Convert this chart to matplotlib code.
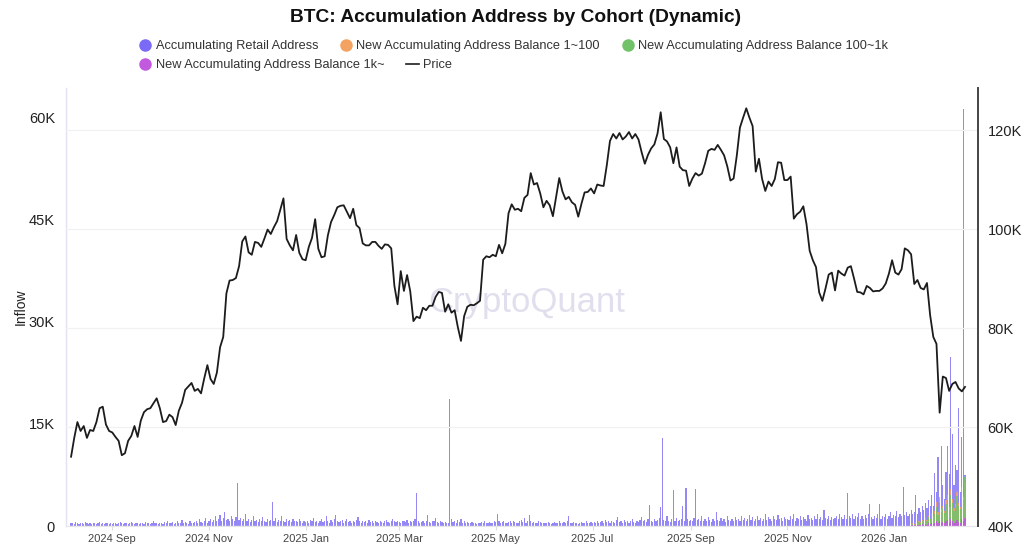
import matplotlib
matplotlib.use("Agg")
import matplotlib.pyplot as plt
from matplotlib.lines import Line2D
import numpy as np
import pandas as pd

plt.rcParams['font.family'] = ['Liberation Sans', 'DejaVu Sans']

# ---------------- data ----------------
title = "BTC: Accumulation Address by Cohort (Dynamic)"
series_names = ["Accumulating Retail Address",
                "New Accumulating Address Balance 1~100",
                "New Accumulating Address Balance 100~1k",
                "New Accumulating Address Balance 1k~",
                "Price"]

# daily inflow of accumulating retail addresses (thousands), from 2024-08-06
retail_start = "2024-08-06"
retail_k = [
    # Aug 2024
    0.4,0.5,0.3,0.6,0.4,0.3,0.5,0.4,0.3,0.6,0.5,0.3,0.4,0.3,0.5,0.4,0.3,0.4,0.6,0.3,0.4,0.3,0.5,0.4,0.3,0.4,
    # Sep
    0.3,0.4,0.5,0.3,0.4,0.6,0.4,0.3,0.5,0.4,0.3,0.4,0.6,0.4,0.3,0.5,0.4,0.3,0.4,0.5,0.3,0.6,0.4,0.5,0.3,0.4,0.7,0.5,0.4,0.3,
    # Oct
    0.4,0.5,0.3,0.6,0.4,0.8,0.5,0.4,0.6,0.3,0.5,0.7,0.4,0.5,0.9,0.4,0.6,0.5,0.3,0.7,0.5,0.4,0.6,0.8,0.5,1.0,0.6,0.4,0.7,1.2,0.5,
    # Nov
    0.8,1.1,0.6,0.9,1.4,0.7,1.0,1.6,0.8,1.2,2.0,0.9,1.1,0.7,1.5,1.0,0.8,1.3,6.3,0.9,1.2,0.7,1.0,1.8,0.8,1.1,0.6,0.9,1.4,0.7,
    # Dec
    0.9,0.6,1.0,0.7,1.3,0.8,0.6,1.1,0.7,0.9,3.6,0.8,1.2,0.6,0.9,0.7,1.5,0.8,0.6,1.0,0.7,0.9,0.6,1.1,0.7,0.8,0.6,1.0,0.7,0.5,0.8,
    # Jan 2025
    0.6,0.8,0.5,0.9,0.7,1.2,0.6,0.8,0.5,0.7,1.0,0.6,0.8,1.4,0.7,0.5,0.9,0.6,1.1,1.6,0.8,0.6,0.7,0.9,0.5,0.7,1.0,0.6,0.8,0.5,0.7,
    # Feb
    0.6,0.9,1.3,0.7,0.5,0.8,0.6,0.7,0.5,0.9,0.6,0.8,0.5,0.7,0.6,0.4,0.8,0.6,0.5,0.7,0.9,0.6,0.5,0.8,1.1,0.7,0.6,0.8,
    # Mar
    0.6,0.5,0.7,0.8,0.6,0.9,0.5,0.7,0.6,0.8,1.0,4.8,0.7,0.5,0.6,0.8,0.5,0.7,1.6,0.6,0.5,0.7,0.8,1.2,0.6,0.5,0.7,0.6,0.4,0.6,0.5,
    # Apr
    0.5,18.7,1.1,0.6,0.8,0.5,0.9,0.6,1.0,0.5,0.7,0.4,0.6,0.5,0.4,0.6,0.5,0.4,0.3,0.5,0.4,0.6,0.5,0.7,0.4,0.5,0.6,0.4,0.5,0.7,
    # May
    0.6,1.8,0.7,0.5,0.6,0.8,0.5,0.4,0.6,0.7,0.5,0.8,0.6,0.4,0.5,0.7,0.9,0.6,1.2,0.5,0.8,1.6,0.7,0.5,0.6,0.4,0.5,0.7,0.6,0.5,0.4,
    # Jun
    0.5,0.4,0.6,0.5,0.3,0.4,0.6,0.5,0.4,0.7,0.5,0.4,0.6,0.5,0.8,1.4,0.5,0.4,0.6,0.5,0.4,0.3,0.5,0.6,0.4,0.5,0.7,0.5,0.4,0.6,
    # Jul
    0.5,0.6,0.4,0.7,0.5,0.6,0.8,0.5,0.9,0.6,0.7,0.5,0.8,0.6,0.5,0.9,1.3,0.6,0.7,0.5,0.9,0.6,0.8,0.5,0.7,1.0,0.6,0.5,0.8,0.6,0.9,
    # Aug 2025
    1.3,0.7,0.9,0.6,1.0,3.1,0.8,0.6,1.1,0.7,0.9,1.2,2.8,13.0,0.9,0.7,1.4,0.8,0.6,1.0,5.3,0.8,1.2,0.7,0.9,1.1,2.9,0.8,5.6,1.0,0.7,
    # Sep
    0.9,0.8,1.2,5.4,0.9,1.1,0.7,1.5,0.8,1.0,0.7,1.3,0.9,0.6,1.1,0.8,2.0,0.9,0.7,1.2,0.8,1.0,0.6,1.4,0.9,0.7,1.1,0.8,1.3,0.9,
    # Oct
    1.0,0.8,1.4,0.9,1.2,0.7,1.1,1.6,0.9,1.3,0.8,1.0,1.5,0.9,1.2,0.7,1.1,1.8,0.9,1.3,1.0,0.8,1.4,1.1,0.9,1.6,1.0,1.2,0.8,1.3,1.0,
    # Nov
    1.1,0.9,1.4,1.0,1.7,0.8,1.2,1.0,1.5,0.9,1.3,1.1,0.8,1.6,1.0,1.2,0.9,1.4,1.1,1.8,1.0,1.3,0.9,2.4,1.2,1.0,1.5,0.9,1.3,1.1,
    # Dec
    1.2,1.5,1.0,1.8,1.3,1.1,1.6,1.0,4.9,1.4,1.2,1.7,1.0,1.5,1.3,1.9,1.1,1.4,1.0,1.6,1.2,1.8,3.2,1.3,1.0,1.5,1.2,1.7,3.3,1.1,1.4,
    # Jan 2026
    1.3,1.8,1.1,1.5,2.0,1.2,1.6,1.4,2.2,1.3,1.7,1.5,5.8,1.6,2.1,1.4,1.8,2.4,1.7,2.0,4.6,1.8,2.6,2.1,3.0,2.4,3.4,2.6,3.8,3.0,4.5,
    # Feb 2026
    3.0,7.8,5.0,10.2,4.0,11.7,6.0,4.0,8.0,11.7,7.7,24.9,13.5,6.0,9.0,8.2,17.3,5.0,13.1,61.3,7.5,
]

# new accumulating address cohorts (thousands), daily from 2026-01-18
new_start = "2026-01-18"
bal_1_100_k = [0.3,0.4,0.3,0.6,0.5,0.8,0.6,0.9,0.7,1.2,0.9,1.5,1.1,1.8,1.3,2.2,3.5,2.0,4.2,2.5,
               3.0,2.2,3.8,4.5,2.8,5.5,4.0,2.6,3.2,5.0,3.4,2.8,5.8,4.2,6.5]
bal_100_1k_k = [0.2,0.3,0.2,0.5,0.4,0.6,0.5,0.8,0.6,1.0,0.8,1.3,1.0,1.6,1.2,1.8,2.8,1.6,3.4,2.0,
                2.6,1.9,3.2,3.8,2.4,4.6,3.4,2.2,2.8,4.4,3.0,2.5,5.2,3.8,7.2]
bal_1k_k = [0.1,0.1,0.1,0.2,0.1,0.2,0.2,0.3,0.2,0.3,0.2,0.4,0.3,0.4,0.3,0.5,0.7,0.4,0.8,0.5,
            0.6,0.4,0.7,0.9,0.5,1.0,0.7,0.4,0.6,0.9,0.6,0.5,1.1,0.8,1.2]

# BTC price (thousands USD), every 2 days from 2024-08-06
price_start = "2024-08-06"
price_k = [
    54.0,57.8,61.0,59.2,60.2,57.8,59.4,59.2,61.0,63.8,64.1,60.5,59.2,58.9,58.0,57.2,54.3,54.7,57.2,58.2,
    60.2,58.0,61.3,63.0,63.6,63.8,64.8,65.8,63.8,61.0,61.2,62.5,62.0,60.4,63.3,64.9,67.5,68.2,68.9,67.3,
    67.7,66.8,69.8,72.5,69.7,68.7,71.0,76.1,78.2,87.0,89.6,89.7,90.1,92.5,97.5,98.5,95.3,94.8,97.4,97.2,
    96.4,98.1,99.9,99.0,100.4,101.6,103.9,106.2,98.0,96.7,95.7,98.8,95.2,93.9,93.7,96.4,98.2,102.0,96.0,94.3,
    94.5,98.7,101.4,102.8,104.4,104.7,104.8,103.5,102.2,104.1,100.8,100.2,97.1,96.7,96.7,97.4,97.4,96.6,96.0,96.9,
    96.8,96.1,88.5,84.8,91.5,87.5,90.7,87.4,81.4,82.3,82.0,84.1,83.6,84.5,84.5,86.3,87.3,87.1,83.3,84.8,
    83.1,83.6,80.2,77.4,82.4,84.3,84.7,84.6,85.0,85.5,93.8,94.5,94.3,94.8,94.5,96.8,95.1,97.0,103.2,105.0,
    103.9,104.1,103.6,106.3,106.9,111.3,109.0,109.3,107.2,104.4,105.7,104.8,102.6,106.4,110.3,107.6,106.0,106.5,105.4,104.9,
    102.5,105.1,107.4,107.5,108.2,107.2,109.0,108.8,108.7,112.9,117.8,119.2,118.3,119.4,118.1,118.7,119.6,118.3,119.2,118.1,
    115.5,113.2,115.0,116.3,117.1,119.3,123.6,118.2,117.7,116.5,113.3,116.5,112.6,111.9,111.8,108.7,110.2,111.3,110.8,111.2,
    113.3,115.8,116.2,116.0,117.0,116.0,114.9,112.7,109.8,110.2,114.8,120.5,122.5,124.4,122.5,120.8,111.6,114.2,110.1,107.7,
    109.6,108.7,110.1,113.5,113.4,109.9,109.9,110.6,102.1,103.0,103.5,104.6,101.0,95.6,93.7,92.3,87.2,85.5,88.0,90.8,
    91.2,87.6,91.6,91.0,90.6,92.2,92.5,90.0,87.3,87.2,86.8,88.5,88.1,87.4,87.5,87.5,88.0,89.0,91.0,93.7,
    91.2,90.8,91.9,96.1,95.7,94.9,88.9,89.7,88.1,87.8,89.1,82.6,78.2,76.8,62.9,70.2,69.9,67.3,68.7,69.1,
    67.8,67.2,68.1,
]

left_ticks = [0, 15000, 30000, 45000, 60000]
left_labels = ["0", "15K", "30K", "45K", "60K"]
right_ticks = [40000, 60000, 80000, 100000, 120000]
right_labels = ["40K", "60K", "80K", "100K", "120K"]
month_ticks = ["2024-09-01", "2024-11-01", "2025-01-01", "2025-03-01", "2025-05-01",
               "2025-07-01", "2025-09-01", "2025-11-01", "2026-01-01"]
month_labels = ["2024 Sep", "2024 Nov", "2025 Jan", "2025 Mar", "2025 May",
                "2025 Jul", "2025 Sep", "2025 Nov", "2026 Jan"]

# ---------------- build ----------------
retail_dates = pd.date_range(retail_start, periods=len(retail_k), freq="D")
new_dates = pd.date_range(new_start, periods=len(bal_1_100_k), freq="D")
price_dates = pd.date_range(price_start, periods=len(price_k), freq="2D")

retail = np.array(retail_k) * 1000
b1 = np.array(bal_1_100_k) * 1000
b2 = np.array(bal_100_1k_k) * 1000
b3 = np.array(bal_1k_k) * 1000
price = np.array(price_k) * 1000

C_RETAIL = "#7a6af5"
C_ORANGE = "#f4a261"
C_GREEN = "#72c26a"
C_MAGENTA = "#c25ae0"

W, H = 1024, 545
fig = plt.figure(figsize=(W / 100, H / 100), dpi=100)
ax_l, ax_r, ax_b, ax_t = 66, 978, 526, 88
ax = fig.add_axes([ax_l / W, 1 - ax_b / H, (ax_r - ax_l) / W, (ax_b - ax_t) / H])
ax2 = ax.twinx()

bw = 0.75
ax.bar(retail_dates, retail, width=bw, color=C_RETAIL, alpha=0.8, linewidth=0, zorder=2)
ax.bar(new_dates, b1, width=bw, color=C_ORANGE, alpha=0.85, linewidth=0, zorder=3)
ax.bar(new_dates, b2, width=bw, color=C_GREEN, alpha=0.85, linewidth=0, zorder=4)
ax.bar(new_dates, b3, width=bw, color=C_MAGENTA, alpha=0.9, linewidth=0, zorder=5)

ax2.plot(price_dates, price, color="#1c1c1c", lw=1.3, zorder=6)

x0 = pd.Timestamp("2024-08-06") - pd.Timedelta(days=3.2)
x1 = pd.Timestamp("2024-08-06") + pd.Timedelta(days=572.2)
ax.set_xlim(x0, x1)
ax.set_ylim(0, 64400)
ax2.set_ylim(40000, 128500)

ax.set_yticks(left_ticks)
ax.set_yticklabels(left_labels)
ax2.set_yticks(right_ticks)
ax2.set_yticklabels(right_labels)
ax.set_xticks(pd.to_datetime(month_ticks))
ax.set_xticklabels(month_labels)

for a in (ax, ax2):
    a.spines["top"].set_visible(False)
ax.spines["left"].set_color("#e3e1f2")
ax.spines["left"].set_linewidth(1.0)
ax.spines["bottom"].set_color("#e6e6e6")
ax.spines["right"].set_visible(False)
ax2.spines["left"].set_visible(False)
ax2.spines["bottom"].set_visible(False)
ax2.spines["right"].set_color("#444444")
ax2.spines["right"].set_linewidth(1.4)

ax2.yaxis.grid(True, color="#f1f1f1", lw=0.9)
ax2.set_axisbelow(True)
ax.tick_params(axis="y", length=0, pad=8, labelsize=10.5, labelcolor="#222222")
ax2.tick_params(axis="y", length=0, pad=7, labelsize=10.5, labelcolor="#222222")
ax.tick_params(axis="x", length=3, color="#dddddd", pad=2.5, labelsize=8, labelcolor="#444444")

ax.set_ylabel("Inflow", fontsize=10, color="#222222", labelpad=1)

# watermark
ax.text(0.505, 0.51, "CryptoQuant", transform=ax.transAxes, fontsize=25,
        color="#dcdaea", ha="center", va="center", zorder=1, alpha=0.85)

# title
fig.text(0.503, 1 - 18 / H, title, ha="center", va="center", fontsize=13.8,
         fontweight="bold", color="#111111")

# legend
h_r = Line2D([], [], marker="o", ls="none", ms=8, color=C_RETAIL)
h_o = Line2D([], [], marker="o", ls="none", ms=8, color=C_ORANGE)
h_g = Line2D([], [], marker="o", ls="none", ms=8, color=C_GREEN)
h_m = Line2D([], [], marker="o", ls="none", ms=8, color=C_MAGENTA)
h_p = Line2D([], [], color="#1c1c1c", lw=1.2)
leg_kw = dict(frameon=False, fontsize=9.2, handlelength=1.0, handletextpad=0.3,
              columnspacing=1.7, borderaxespad=0, borderpad=0)
leg1 = fig.legend([h_r, h_o, h_g], series_names[:3], loc="center left",
                  bbox_to_anchor=(139 / W, 1 - 46 / H), ncol=3, **leg_kw)
leg2 = fig.legend([h_m, h_p], series_names[3:], loc="center left",
                  bbox_to_anchor=(139 / W, 1 - 65 / H), ncol=2, **leg_kw)
for lg in (leg1, leg2):
    for t in lg.get_texts():
        t.set_color("#333333")

fig.savefig("out.png", dpi=100)
